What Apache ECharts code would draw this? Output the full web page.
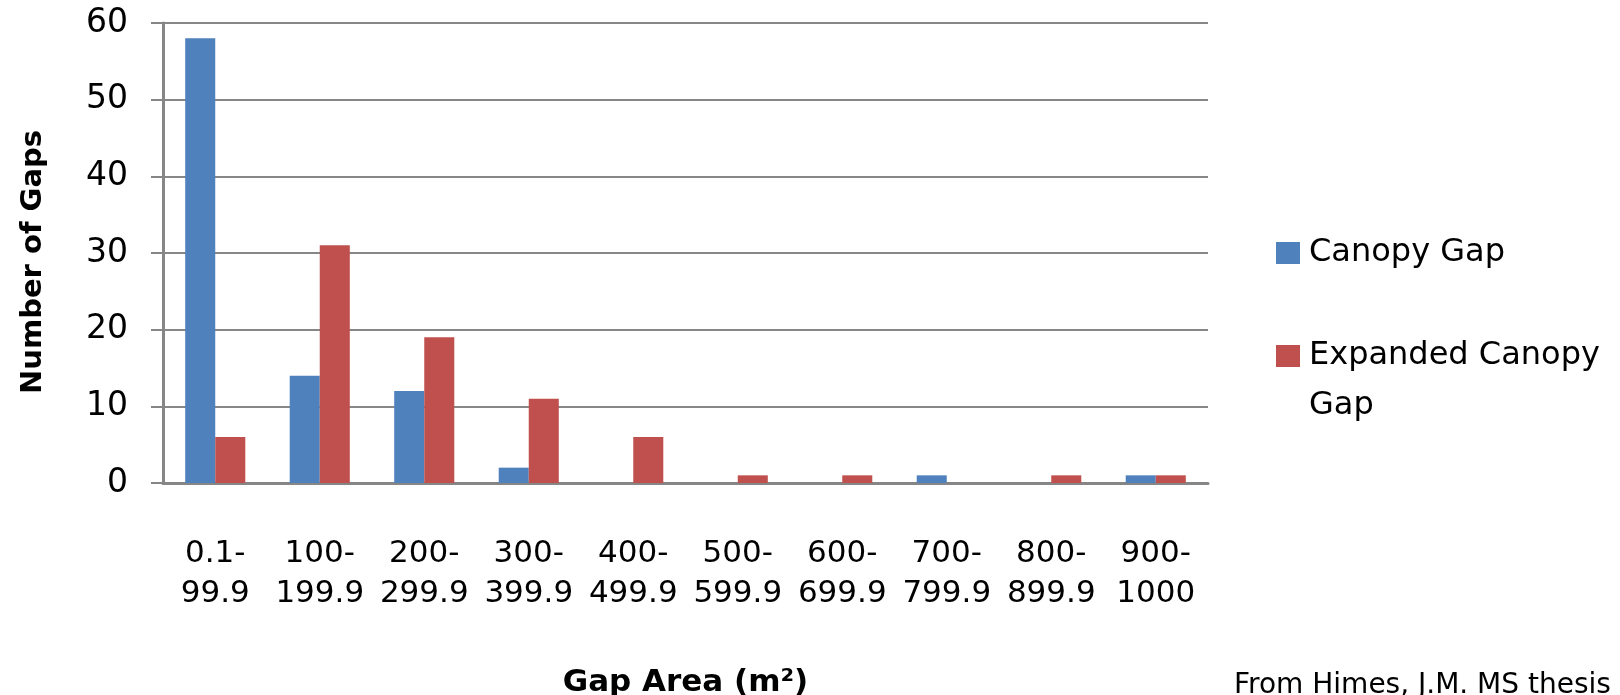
<!DOCTYPE html>
<html>
<head>
<meta charset="utf-8">
<script src="https://cdn.jsdelivr.net/npm/echarts@6/dist/echarts.min.js"></script>
<style>html,body{margin:0;padding:0;background:#fff;}#c{width:1620px;height:695px;}</style>
</head>
<body>
<div id="c"></div>
<script>
const categories = ['0.1-\n99.9','100-\n199.9','200-\n299.9','300-\n399.9','400-\n499.9','500-\n599.9','600-\n699.9','700-\n799.9','800-\n899.9','900-\n1000'];
const canopyGap = [58, 14, 12, 2, 0, 0, 0, 1, 0, 1];
const expandedGap = [6, 31, 19, 11, 6, 1, 1, 0, 1, 1];
const yTicks = [0, 10, 20, 30, 40, 50, 60];
const seriesNames = ['Canopy Gap', 'Expanded Canopy Gap'];

const FONT = 'DejaVu Sans';
const chart = echarts.init(document.getElementById('c'));
chart.setOption({
  animation: false,
  backgroundColor: '#ffffff',
  textStyle: { fontFamily: FONT },
  grid: { left: 163, right: 412, top: 23, bottom: 212, containLabel: false, outerBoundsMode: 'none' },
  legend: [
    {
      data: [seriesNames[0]],
      orient: 'vertical', left: 1271, top: 232,
      itemWidth: 24, itemHeight: 22, icon: 'rect',
      textStyle: { fontFamily: FONT, fontSize: 32, color: '#000', lineHeight: 32, padding: [0, 0, 0, 4] }
    },
    {
      data: [seriesNames[1]],
      orient: 'vertical', left: 1271, top: 276,
      itemWidth: 24, itemHeight: 22, icon: 'rect',
      formatter: function () { return ' \nExpanded Canopy\nGap'; },
      textStyle: { fontFamily: FONT, fontSize: 32, color: '#000', lineHeight: 50, padding: [0, 0, 0, 4] }
    }
  ],
  xAxis: {
    type: 'category',
    data: categories,
    name: 'Gap Area (m²)',
    nameLocation: 'middle',
    nameGap: 184,
    nameTextStyle: { fontFamily: FONT, fontSize: 31, fontWeight: 'bold', color: '#000' },
    axisLine: { show: true, lineStyle: { color: '#868686', width: 3 } },
    axisTick: { show: false },
    axisLabel: { fontFamily: FONT, fontSize: 31, color: '#000', lineHeight: 40, margin: 51, interval: 0 }
  },
  yAxis: {
    type: 'value',
    min: 0, max: 60, interval: 10,
    name: 'Number of Gaps',
    nameLocation: 'middle',
    nameGap: 115,
    nameTextStyle: { fontFamily: FONT, fontSize: 29, fontWeight: 'bold', color: '#000', padding: [0, 18, 0, 0] },
    axisLine: { show: true, lineStyle: { color: '#868686', width: 3 } },
    axisTick: { show: true, length: 12, lineStyle: { color: '#868686', width: 2 } },
    axisLabel: {
      fontFamily: FONT, fontSize: 33, color: '#000', margin: 35,
      formatter: function (v) { return yTicks.indexOf(v) >= 0 ? String(v) : ''; }
    },
    splitLine: { show: true, lineStyle: { color: '#878787', width: 2 } }
  },
  series: [
    {
      name: seriesNames[0], type: 'bar', data: canopyGap,
      barGap: '0%', barCategoryGap: '42.5%',
      itemStyle: { color: '#4F81BD' }
    },
    {
      name: seriesNames[1], type: 'bar', data: expandedGap,
      barGap: '0%', barCategoryGap: '42.5%',
      itemStyle: { color: '#C0504D' }
    }
  ],
  graphic: [
    {
      type: 'text', left: 1234, top: 672,
      style: { text: 'From Himes, J.M. MS thesis', font: '28px "DejaVu Sans"', fill: '#000' }
    }
  ]
});
</script>
</body>
</html>
